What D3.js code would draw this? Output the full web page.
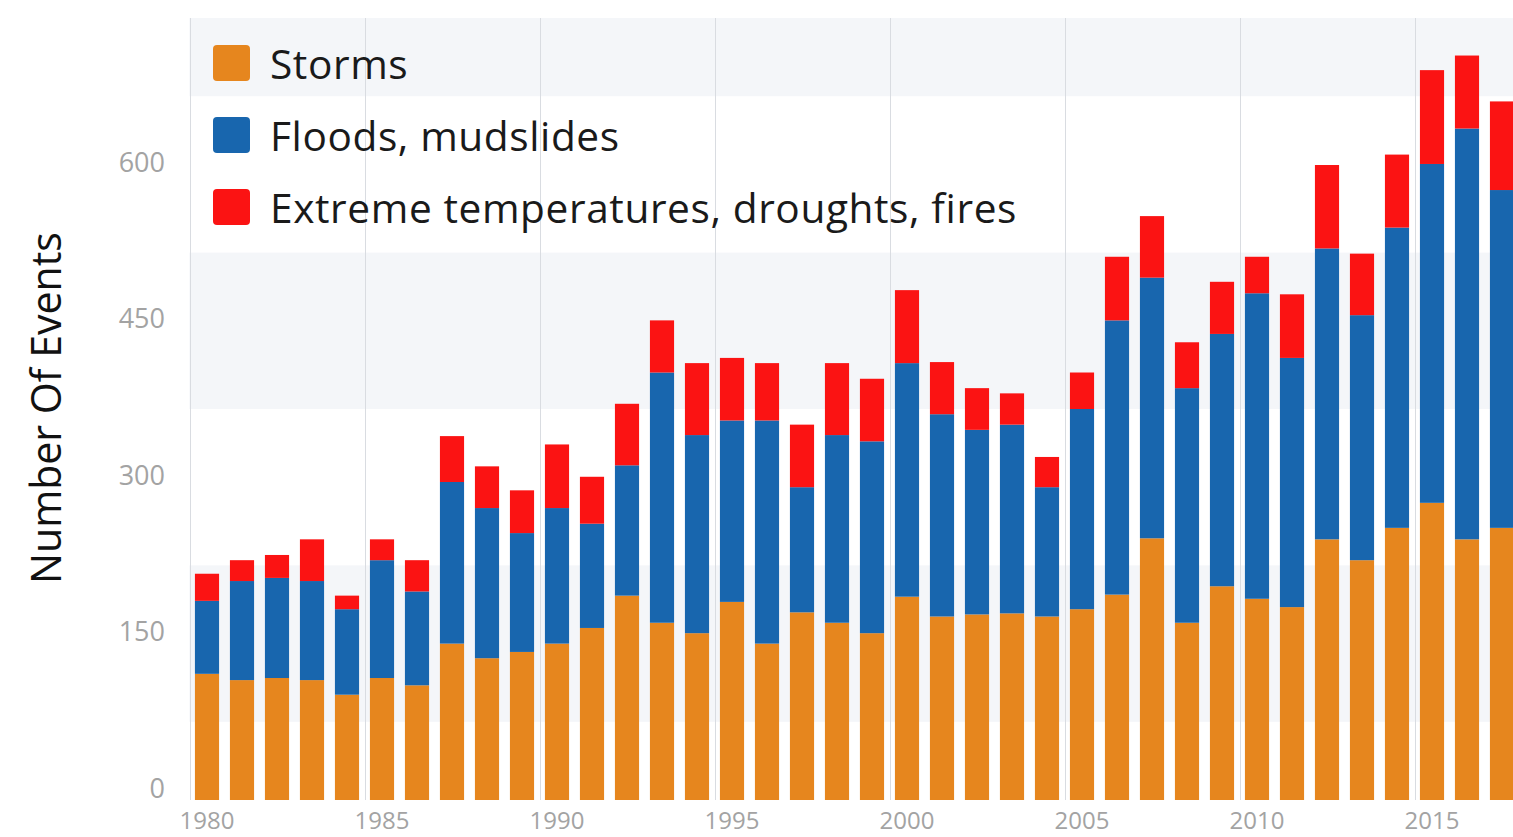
<!DOCTYPE html>
<html>
<head>
<meta charset="utf-8">
<script src="https://cdn.jsdelivr.net/npm/d3@7"></script>
<style>
  body { margin: 0; background: #fff; }
  svg { display: block; font-family: "Open Sans", sans-serif; }
</style>
</head>
<body>
<svg></svg>
<script>
var width = 1513;
var height = 837;

// 各年の値
var years = [1980, 1981, 1982, 1983, 1984, 1985, 1986, 1987, 1988, 1989,
             1990, 1991, 1992, 1993, 1994, 1995, 1996, 1997, 1998, 1999,
             2000, 2001, 2002, 2003, 2004, 2005, 2006, 2007, 2008, 2009,
             2010, 2011, 2012, 2013, 2014, 2015, 2016, 2017];
var storms = [121, 115, 117, 115, 101, 117, 110, 150, 136, 142,
              150, 165, 196, 170, 160, 190, 150, 180, 170, 160,
              195, 176, 178, 179, 176, 183, 197, 251, 170, 205,
              193, 185, 250, 230, 261, 285, 250, 261];
var floods = [70, 95, 96, 95, 82, 113, 90, 155, 144, 114,
              130, 100, 125, 240, 190, 174, 214, 120, 180, 184,
              224, 194, 177, 181, 124, 192, 263, 250, 225, 242,
              293, 239, 279, 235, 288, 325, 394, 324];
var extreme = [26, 20, 22, 40, 13, 20, 30, 44, 40, 41,
               61, 45, 59, 50, 69, 60, 55, 60, 69, 60,
               70, 50, 40, 30, 29, 35, 61, 59, 44, 50,
               35, 61, 80, 59, 70, 90, 70, 85];

var seriesNames = ["Storms", "Floods, mudslides", "Extreme temperatures, droughts, fires"];
var seriesKeys = ["storms", "floods", "extreme"];
var colors = ["#e6861e", "#1866ae", "#fb1313"];

var yTicks = [0, 150, 300, 450, 600];
var xTicks = [1980, 1985, 1990, 1995, 2000, 2005, 2010, 2015];
// 背景の縞（値の範囲）
var bands = [[75, 225], [375, 525], [675, 750]];

var table = years.map(function(y, i) {
  return {year: y, storms: storms[i], floods: floods[i], extreme: extreme[i]};
});

var svg = d3.select("svg")
    .attr("width", width)
    .attr("height", height);

var x = d3.scaleBand()
    .domain(years)
    .range([189.5, 189.5 + years.length * 35])
    .paddingInner(0.31)
    .paddingOuter(0.155);

var y = d3.scaleLinear()
    .domain([0, 750])
    .range([800, 18]);

var plotLeft = 189.5;
var plotRight = width;

// 縞模様の背景
svg.append("g").selectAll("rect")
    .data(bands)
    .enter().append("rect")
    .attr("x", plotLeft)
    .attr("y", function(d) { return y(d[1]); })
    .attr("width", plotRight - plotLeft)
    .attr("height", function(d) { return y(d[0]) - y(d[1]); })
    .attr("fill", "#f4f6f9");

// 縦のグリッド線（カテゴリの左端）
svg.append("g").selectAll("line")
    .data(xTicks)
    .enter().append("line")
    .attr("x1", function(d) { return Math.round(x(d) - x.step() * x.paddingOuter()) + 0.5; })
    .attr("x2", function(d) { return Math.round(x(d) - x.step() * x.paddingOuter()) + 0.5; })
    .attr("y1", y(750))
    .attr("y2", y(0))
    .attr("stroke", "#d9dce1")
    .attr("stroke-width", 1);

// 積み上げ棒
var stack = d3.stack().keys(seriesKeys);
var layers = svg.append("g").selectAll("g")
    .data(stack(table))
    .enter().append("g")
    .attr("fill", function(d, i) { return colors[i]; });

layers.selectAll("rect")
    .data(function(d) { return d; })
    .enter().append("rect")
    .attr("x", function(d) { return x(d.data.year); })
    .attr("y", function(d) { return y(d[1]); })
    .attr("width", x.bandwidth())
    .attr("height", function(d) { return y(d[0]) - y(d[1]); });

// y軸ラベル
svg.append("g").selectAll("text")
    .data(yTicks)
    .enter().append("text")
    .attr("x", 165)
    .attr("y", function(d) { return y(d) - 13; })
    .attr("text-anchor", "end")
    .attr("dominant-baseline", "central")
    .attr("fill", "#a3a3a3")
    .attr("font-size", 27)
    .text(function(d) { return d; });

// x軸ラベル（下端に収まるよう少し上げる）
svg.append("g").selectAll("text")
    .data(xTicks)
    .enter().append("text")
    .attr("x", function(d) { return x(d) + x.bandwidth() / 2; })
    .attr("y", 819)
    .attr("text-anchor", "middle")
    .attr("dominant-baseline", "central")
    .attr("fill", "#a3a3a3")
    .attr("font-size", 24)
    .text(function(d) { return d; });

// テキスト幅を合わせる
function fitWidth(sel, target) {
  var w = sel.node().getComputedTextLength();
  var fs = parseFloat(sel.attr("font-size"));
  sel.attr("font-size", fs * target / w);
}

// y軸タイトル
var ytitle = svg.append("text")
    .attr("transform", "translate(45,408) rotate(-90)")
    .attr("text-anchor", "middle")
    .attr("dominant-baseline", "central")
    .attr("fill", "#111")
    .attr("font-size", 34)
    .text("Number Of Events");
fitWidth(ytitle, 352);

// 凡例
var legend = svg.append("g").selectAll("g")
    .data(seriesNames)
    .enter().append("g")
    .attr("transform", function(d, i) { return "translate(213," + (63 + i * 72) + ")"; });

legend.append("rect")
    .attr("x", 0)
    .attr("y", -18)
    .attr("width", 37)
    .attr("height", 36)
    .attr("rx", 4)
    .attr("fill", function(d, i) { return colors[i]; });

var legendText = legend.append("text")
    .attr("x", 57)
    .attr("y", 0)
    .attr("dominant-baseline", "central")
    .attr("fill", "#1a1a1a")
    .attr("font-size", 36)
    .attr("letter-spacing", 0.6)
    .text(function(d) { return d; });

fitWidth(d3.select(legendText.nodes()[2]), 750);
legendText.attr("font-size", d3.select(legendText.nodes()[2]).attr("font-size"));
</script>
</body>
</html>
